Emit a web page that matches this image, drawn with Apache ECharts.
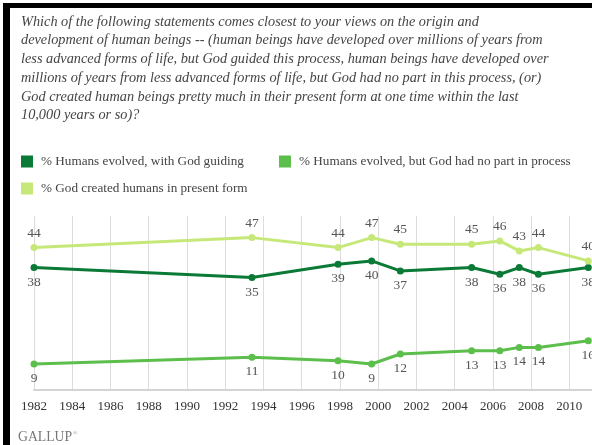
<!DOCTYPE html>
<html>
<head>
<meta charset="utf-8">
<script src="https://cdn.jsdelivr.net/npm/echarts@6/dist/echarts.min.js"></script>
<style>
html,body{margin:0;padding:0;background:#fff;}
#c{width:592px;height:445px;}
</style>
</head>
<body>
<div id="c"></div>
<script>
// Survey dates (decimal years)
const years = [1982.0, 1993.4, 1997.9, 1999.66, 2001.16, 2004.89, 2006.36, 2007.38, 2008.38, 2010.99];
const godGuiding = [38, 35, 39, 40, 37, 38, 36, 38, 36, 38];
const noGod = [9, 11, 10, 9, 12, 13, 13, 14, 14, 16];
const created = [44, 47, 44, 47, 45, 45, 46, 43, 44, 40];
const seriesNames = ['% Humans evolved, with God guiding', '% Humans evolved, but God had no part in process', '% God created humans in present form'];
const titleLines = [
  'Which of the following statements comes closest to your views on the origin and',
  'development of human beings -- (human beings have developed over millions of years from',
  'less advanced forms of life, but God guided this process, human beings have developed over',
  'millions of years from less advanced forms of life, but God had no part in this process, (or)',
  'God created human beings pretty much in their present form at one time within the last',
  '10,000 years or so)?'
];

const colors = ['#0b7a36', '#5cbf4c', '#c6e878'];
const serif = '"Liberation Serif", serif';
const pair = (vals) => years.map((y, i) => [y, vals[i]]);

const chart = echarts.init(document.getElementById('c'), null, {renderer: 'canvas'});

function mkSeries(name, vals, color, pos) {
  return {
    name: name, type: 'line', data: pair(vals),
    symbol: 'circle', symbolSize: 7,
    lineStyle: {color: color, width: 3},
    itemStyle: {color: color},
    label: {show: true, position: pos, distance: 4, color: '#555', fontFamily: serif, fontSize: 13.5},
    z: 3
  };
}

const legendBase = {
  icon: 'rect', itemWidth: 12, itemHeight: 12, padding: 0,
  textStyle: {fontFamily: serif, fontSize: 13.2, lineHeight: 12, color: '#444', padding: [0, 0, 0, 3]},
  selectedMode: false
};

chart.setOption({
  backgroundColor: '#fff',
  animation: false,
  title: {
    text: titleLines.join('\n'), left: 21, top: 12.6, padding: 0,
    textStyle: {fontFamily: serif, fontStyle: 'italic', fontWeight: 'normal', fontSize: 14.3, color: '#444', lineHeight: 18.7}
  },
  legend: [
    Object.assign({}, legendBase, {data: [seriesNames[0]], left: 21, top: 155}),
    Object.assign({}, legendBase, {data: [seriesNames[1]], left: 279, top: 155}),
    Object.assign({}, legendBase, {data: [seriesNames[2]], left: 21, top: 182})
  ],
  grid: {left: 34, width: 573.6, top: 216, bottom: 55.7, containLabel: false, outerBoundsMode: 'none'},
  xAxis: {
    type: 'value', min: 1982, max: 2012, interval: 2,
    axisLine: {show: true, lineStyle: {color: '#d4d4d4', width: 2}},
    axisTick: {show: false},
    axisLabel: {color: '#333', fontFamily: serif, fontSize: 13, margin: 11, formatter: v => String(v)},
    splitLine: {show: true, lineStyle: {color: '#dcdcdc', width: 1}}
  },
  yAxis: {type: 'value', min: 1.4, max: 53.5, show: false, splitLine: {show: false}},
  series: [
    mkSeries(seriesNames[0], godGuiding, colors[0], 'bottom'),
    mkSeries(seriesNames[1], noGod, colors[1], 'bottom'),
    mkSeries(seriesNames[2], created, colors[2], 'top')
  ],
  graphic: [
    {type: 'rect', shape: {x: 3, y: 3, width: 589, height: 5}, style: {fill: '#000'}, silent: true},
    {type: 'rect', shape: {x: 3, y: 3, width: 7, height: 442}, style: {fill: '#000'}, silent: true},
    {type: 'text', left: 18, top: 430, style: {text: 'GALLUP', fill: '#777', font: '13.7px ' + serif}},
    {type: 'text', left: 73, top: 430, style: {text: '®', fill: '#999', font: '6px ' + serif}}
  ]
});
</script>
</body>
</html>
